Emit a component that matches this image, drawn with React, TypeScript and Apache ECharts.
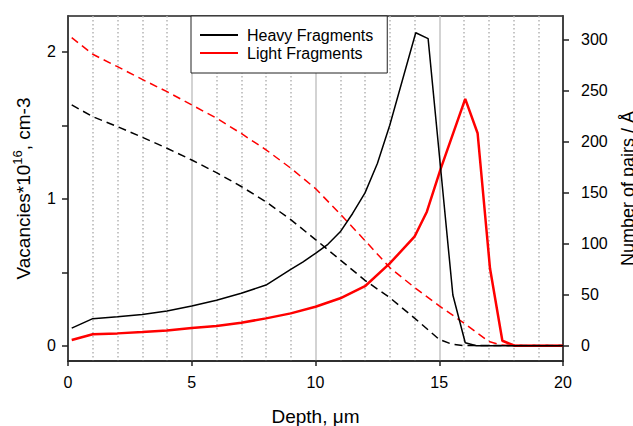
import React, { useEffect, useRef } from "react";
import * as echarts from "echarts";

// Depth (µm) positions and values
const heavyVacDepth = [0.15, 1, 2, 3, 4, 5, 6, 7, 8, 9, 9.5, 10, 10.5, 11, 11.5, 12, 12.5, 13, 14.05, 14.55, 15.55, 16.05, 16.5, 17, 18, 19, 20];
const heavyVac = [0.12, 0.184, 0.197, 0.213, 0.237, 0.27, 0.31, 0.357, 0.413, 0.52, 0.57, 0.629, 0.69, 0.775, 0.9, 1.04, 1.24, 1.5, 2.13, 2.09, 0.345, 0.02, 0, 0, 0, 0, 0];

const lightVacDepth = [0.15, 1, 2, 3, 4, 5, 6, 7, 8, 9, 10, 11, 12, 13, 14, 14.5, 15.05, 16.05, 16.55, 17.05, 17.55, 18.05, 19, 20];
const lightVac = [0.039, 0.078, 0.084, 0.093, 0.104, 0.12, 0.134, 0.157, 0.186, 0.22, 0.265, 0.323, 0.405, 0.56, 0.742, 0.912, 1.2, 1.68, 1.446, 0.527, 0.034, 0, 0, 0];

const heavyPairsDepth = [0.15, 1, 2, 3, 4, 5, 6, 7, 8, 9, 10, 11, 12, 13, 14, 15, 15.5, 16, 17, 18, 19, 20];
const heavyPairs = [236, 224.5, 214.7, 204.3, 193.5, 182, 169.6, 156, 141, 123.5, 104, 84, 64, 47, 27, 6, 1.5, 0, 0, 0, 0, 0];

const lightPairsDepth = [0.15, 1, 2, 3, 4, 5, 6, 7, 8, 9, 10, 11, 12, 13, 14, 15, 16, 17, 17.5, 18, 19, 20];
const lightPairs = [302, 285.7, 273.5, 261, 249, 236, 223, 208, 192, 174, 154, 129, 103, 76.5, 57, 39, 22, 4, 0.5, 0, 0, 0];

const leftTicks = [0, 0.5, 1, 1.5, 2];
const leftLabels = [0, 1, 2];
const rightTicks = [0, 50, 100, 150, 200, 250, 300];

const FONT = "'Liberation Sans', Arial, sans-serif";

const zip = (xs: number[], ys: number[]) => xs.map((x, i) => [x, ys[i]]);

export default function App() {
  const ref = useRef<HTMLDivElement>(null);
  useEffect(() => {
    if (!ref.current) return;
    const chart = echarts.init(ref.current, undefined, { renderer: "svg" });
    const axisLineStyle = { color: "#222", width: 1.5 };
    chart.setOption({
      animation: false,
      backgroundColor: "#fff",
      textStyle: { fontFamily: FONT },
      grid: {
        left: 68,
        right: 70,
        top: 16,
        bottom: 65,
        show: true,
        borderColor: "#222",
        borderWidth: 1.5,
        containLabel: false,
        outerBoundsMode: "none",
      },
      legend: {
        left: 191,
        top: 16,
        orient: "vertical",
        data: [
          { name: "Heavy Fragments", icon: "rect" },
          { name: "Light Fragments", icon: "rect" },
        ],
        itemWidth: 38,
        itemHeight: 2,
        itemGap: 0,
        padding: [10, 14, 11, 9],
        backgroundColor: "#fff",
        borderColor: "#222",
        borderWidth: 1,
        borderRadius: 0,
        textStyle: { fontFamily: FONT, fontSize: 16, color: "#000", lineHeight: 18, padding: [0, 0, 0, 4] },
      },
      xAxis: {
        type: "value",
        min: 0,
        max: 20,
        interval: 5,
        name: "Depth, \u03bcm",
        nameLocation: "middle",
        nameGap: 46,
        nameTextStyle: { fontFamily: FONT, fontSize: 19, color: "#000" },
        axisLine: { show: true, onZero: false, lineStyle: axisLineStyle },
        axisTick: { show: true, inside: false, length: 5, lineStyle: axisLineStyle },
        axisLabel: { fontFamily: FONT, fontSize: 16, color: "#000", margin: 13 },
        splitLine: { show: true, lineStyle: { color: "#c4c4c4", width: 1.5 } },
        minorTick: { show: false, splitNumber: 5 },
        minorSplitLine: { show: true, lineStyle: { color: "#b4b4b4", width: 1.5, type: [1.5, 2.5] } },
      },
      yAxis: [
        {
          type: "value",
          position: "left",
          min: -0.104,
          max: 2.244,
          name: "Vacancies*10{sup|16}, cm-3",
          nameLocation: "middle",
          nameGap: 31,
          nameRotate: 90,
          nameTextStyle: {
            fontFamily: FONT,
            fontSize: 19,
            color: "#000",
            lineHeight: 25,
            rich: {
              sup: { fontFamily: FONT, fontSize: 13, lineHeight: 13, verticalAlign: "top", color: "#000" },
            },
          },
          axisLine: { show: true, onZero: false, lineStyle: axisLineStyle },
          axisTick: { show: true, length: 6, lineStyle: axisLineStyle, customValues: leftTicks },
          axisLabel: { fontFamily: FONT, fontSize: 16, color: "#000", margin: 12, customValues: leftLabels },
          splitLine: { show: false },
        },
        {
          type: "value",
          position: "right",
          min: -15.1,
          max: 323.2,
          name: "Number of pairs / \u00c5",
          nameLocation: "middle",
          nameGap: 49,
          nameRotate: 90,
          nameTextStyle: { fontFamily: FONT, fontSize: 18, color: "#000" },
          axisLine: { show: true, onZero: false, lineStyle: axisLineStyle },
          axisTick: { show: true, length: 6, lineStyle: axisLineStyle, customValues: rightTicks },
          axisLabel: { fontFamily: FONT, fontSize: 16, color: "#000", margin: 18, customValues: rightTicks },
          splitLine: { show: false },
        },
      ],
      series: [
        {
          name: "Light Fragments pairs",
          type: "line",
          yAxisIndex: 1,
          data: zip(lightPairsDepth, lightPairs),
          showSymbol: false,
          lineStyle: { color: "#ff0000", width: 1.5, type: [8, 5] },
          itemStyle: { color: "#ff0000" },
          z: 2,
        },
        {
          name: "Heavy Fragments pairs",
          type: "line",
          yAxisIndex: 1,
          data: zip(heavyPairsDepth, heavyPairs),
          showSymbol: false,
          lineStyle: { color: "#000", width: 1.5, type: [8, 5] },
          itemStyle: { color: "#000" },
          z: 2,
        },
        {
          name: "Light Fragments",
          type: "line",
          yAxisIndex: 0,
          data: zip(lightVacDepth, lightVac),
          showSymbol: false,
          lineStyle: { color: "#ff0000", width: 2.5 },
          itemStyle: { color: "#ff0000" },
          z: 3,
        },
        {
          name: "Heavy Fragments",
          type: "line",
          yAxisIndex: 0,
          data: zip(heavyVacDepth, heavyVac),
          showSymbol: false,
          lineStyle: { color: "#000", width: 1.5 },
          itemStyle: { color: "#000" },
          z: 4,
        },
      ],
    });
    return () => chart.dispose();
  }, []);
  return (
    <div
      ref={ref}
      style={{ position: "fixed", left: 0, top: 0, width: 633, height: 426, background: "#fff" }}
    />
  );
}
